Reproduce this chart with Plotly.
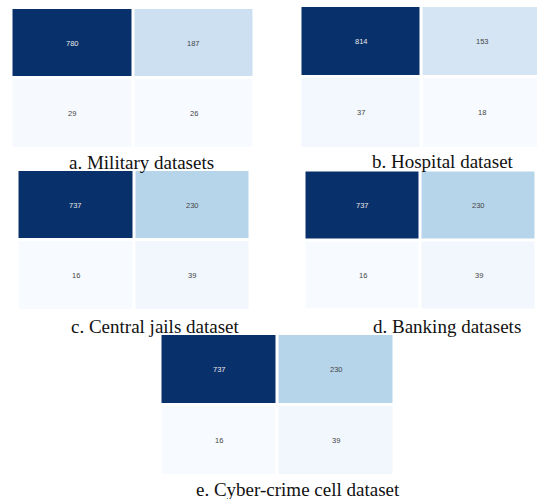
import plotly.graph_objects as go

# Confusion-matrix counts for each dataset (rows: actual, cols: predicted)
military = [[780, 187], [29, 26]]
hospital = [[814, 153], [37, 18]]
central_jails = [[737, 230], [16, 39]]
banking = [[737, 230], [16, 39]]
cyber_crime = [[737, 230], [16, 39]]

captions = [
    "a. Military datasets",
    "b. Hospital dataset",
    "c. Central jails dataset",
    "d. Banking datasets",
    "e. Cyber-crime cell dataset",
]
matrices = [military, hospital, central_jails, banking, cyber_crime]

W, H = 537, 499

# Pixel boxes (left, right, top, bottom) for each panel, caption centre (x, y),
# and the visible right end of the x range (panels b and d run to the page edge).
boxes = [
    (11.5, 254.5, 8, 148.5),
    (300.5, 537, 6, 148.5),
    (17.5, 250.5, 170, 310.5),
    (304.5, 536.5, 170.5, 310.5),
    (160.5, 394.5, 334, 475.5),
]
x_right = [1.5, 1.45, 1.5, 1.5, 1.5]
caption_pos = [(141, 162), (443, 161), (155, 326), (447, 326), (298, 489)]

# ColorBrewer Blues, stretched from each matrix's min to its max
blues = ["#f7fbff", "#deebf7", "#c6dbef", "#9ecae1", "#6baed6",
         "#4292c6", "#2171b5", "#08519c", "#08306b"]
colorscale = [[i / (len(blues) - 1), c] for i, c in enumerate(blues)]

fig = go.Figure()
annotations = []
layout_axes = {}

for k, (z, (l, r, t, b)) in enumerate(zip(matrices, boxes)):
    idx = "" if k == 0 else str(k + 1)
    xa, ya = "x" + idx, "y" + idx
    flat = [v for row in z for v in row]
    fig.add_trace(go.Heatmap(
        z=z, x=[0, 1], y=[0, 1], xaxis=xa, yaxis=ya,
        colorscale=colorscale, zmin=min(flat), zmax=max(flat),
        showscale=False, xgap=3, ygap=3, hoverinfo="skip",
    ))
    layout_axes["xaxis" + idx] = dict(
        domain=[l / W, r / W], range=[-0.5, x_right[k]],
        visible=False, fixedrange=True, anchor=ya,
    )
    layout_axes["yaxis" + idx] = dict(
        domain=[1 - b / H, 1 - t / H], range=[1.5, -0.5],
        visible=False, fixedrange=True, anchor=xa,
    )
    mid = (min(flat) + max(flat)) / 2
    for i, row in enumerate(z):
        for j, v in enumerate(row):
            annotations.append(dict(
                x=j, y=i, xref=xa, yref=ya, text=str(v), showarrow=False,
                font=dict(family="Liberation Sans, Arial", size=7.5,
                          color="#e8e8e8" if v > mid else "#444444"),
            ))

for text, (cx, cy) in zip(captions, caption_pos):
    annotations.append(dict(
        x=cx / W, y=1 - cy / H, xref="paper", yref="paper", text=text,
        showarrow=False, xanchor="center", yanchor="middle",
        font=dict(family="Liberation Serif, Times New Roman", size=19,
                  color="#111111"),
    ))

fig.update_layout(
    width=W, height=H, margin=dict(l=0, r=0, t=0, b=0),
    paper_bgcolor="white", plot_bgcolor="white",
    annotations=annotations, **layout_axes,
)

fig.write_html("out.html")
